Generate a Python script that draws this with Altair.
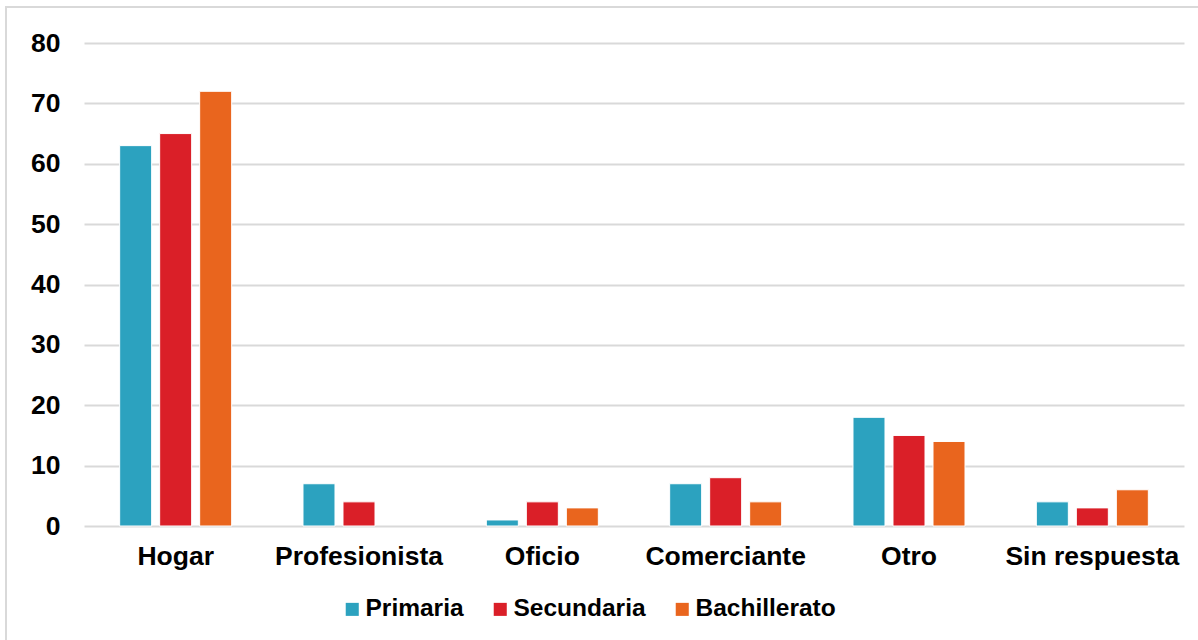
import altair as alt
import pandas as pd

# Ocupación por nivel de escolaridad
categorias = ["Hogar", "Profesionista", "Oficio", "Comerciante", "Otro", "Sin respuesta"]
niveles = ["Primaria", "Secundaria", "Bachillerato"]
primaria = [63, 7, 1, 7, 18, 4]
secundaria = [65, 4, 4, 8, 15, 3]
bachillerato = [72, 0, 3, 4, 14, 6]
colores = ["#2CA2BF", "#DA1F28", "#E9651E"]

filas = []
for nivel, serie in zip(niveles, [primaria, secundaria, bachillerato]):
    for cat, v in zip(categorias, serie):
        filas.append({"categoria": cat, "nivel": nivel, "valor": v})
df = pd.DataFrame(filas)

FONT = "Liberation Sans"
FS_AXIS = 26.5
FS_LEG = 24.5

bars = alt.Chart(df).transform_filter("datum.valor > 0").mark_bar(
    stroke="white", strokeWidth=1
).encode(
    x=alt.X(
        "categoria:N",
        sort=categorias,
        title=None,
        scale=alt.Scale(domain=categorias, paddingInner=0.389, paddingOuter=0.1945),
        axis=alt.Axis(
            labelAngle=0, labelFont=FONT, labelFontSize=FS_AXIS, labelFontWeight="bold",
            labelColor="black", labelPadding=17, ticks=False, domain=False,
            labelLimit=300,
        ),
    ),
    xOffset=alt.XOffset("nivel:N", sort=niveles,
                        scale=alt.Scale(domain=niveles, paddingInner=0.2)),
    y=alt.Y(
        "valor:Q",
        title=None,
        scale=alt.Scale(domain=[0, 80]),
        axis=alt.Axis(
            values=list(range(0, 81, 10)), labelFont=FONT, labelFontSize=FS_AXIS,
            labelFontWeight="bold", labelColor="black", labelPadding=24,
            ticks=False, domain=False, gridColor="#d9d9d9", gridWidth=2,
        ),
    ),
    color=alt.Color(
        "nivel:N",
        sort=niveles,
        scale=alt.Scale(domain=niveles, range=colores),
        legend=alt.Legend(
            title=None, orient="none", direction="horizontal",
            legendX=256, legendY=554,
            labelFont=FONT, labelFontSize=FS_LEG, labelFontWeight="bold",
            labelColor="black", symbolType="square", symbolSize=170,
            symbolStrokeWidth=0, labelOffset=1, columnPadding=24,
        ),
    ),
)

# Marco exterior del gráfico
marco = alt.Chart(pd.DataFrame({"k": [0]})).mark_rect(
    fill=None, stroke="#d9d9d9", strokeWidth=2
).encode(
    x=alt.value(-78), x2=alt.value(1200), y=alt.value(-36), y2=alt.value(700)
)

chart = alt.layer(marco, bars).properties(
    width=1100,
    height=483,
    padding={"left": 84, "top": 43, "right": 14, "bottom": 114},
    autosize=alt.AutoSizeParams(type="none"),
    background="white",
).configure_view(stroke=None)

chart.save("out.html", embed_options={"renderer": "svg", "actions": False})
